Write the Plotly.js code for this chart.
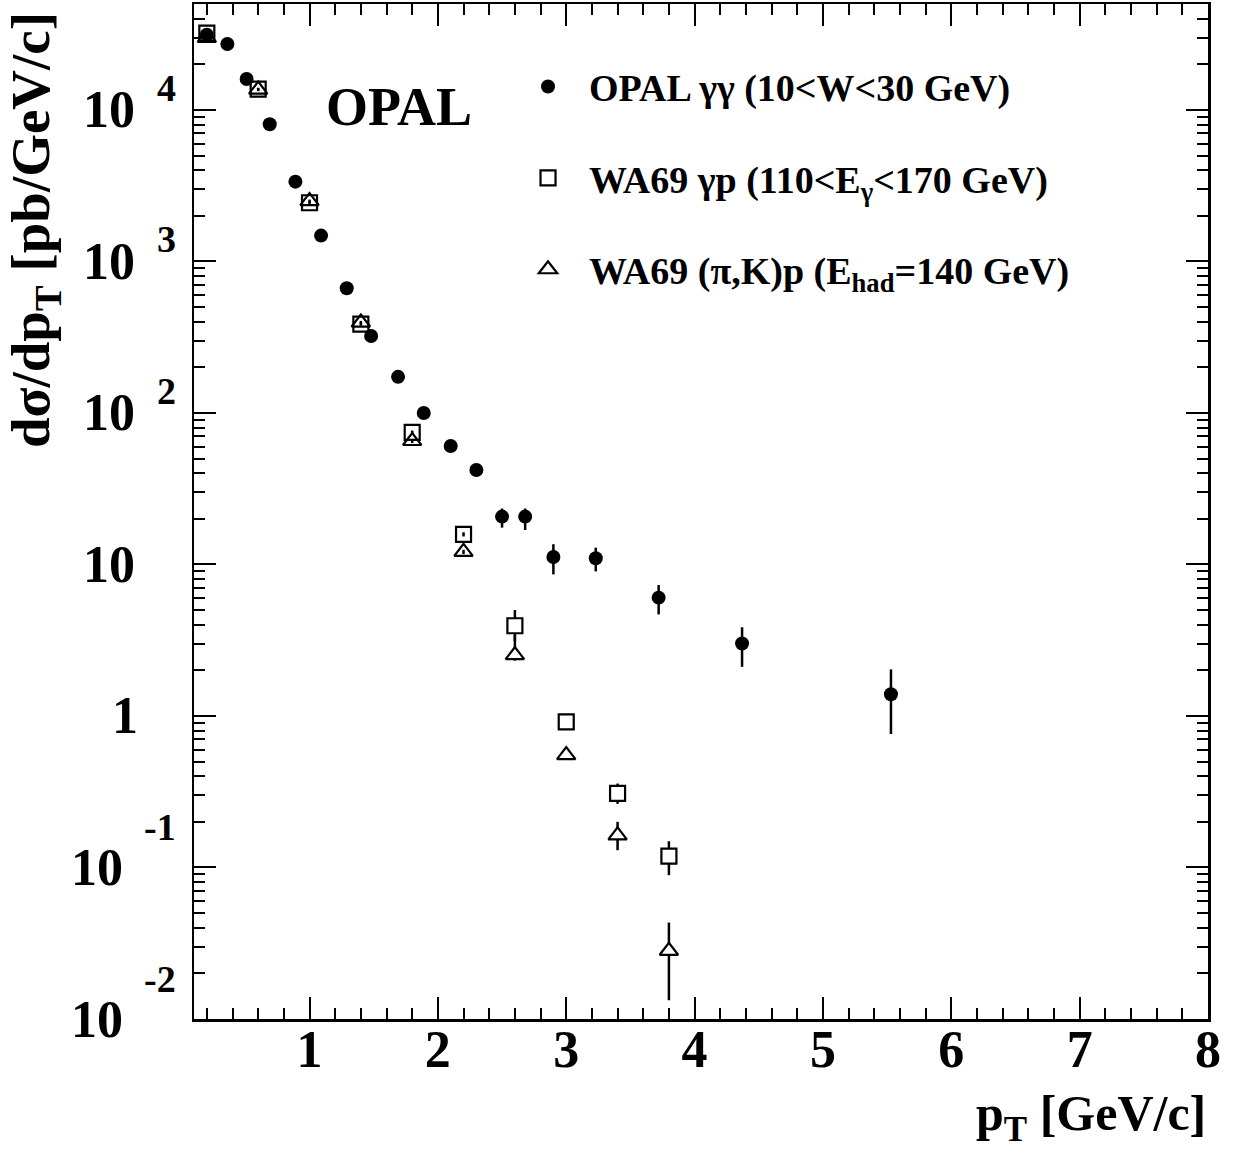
<!DOCTYPE html>
<html><head><meta charset="utf-8">
<script src="https://cdn.plot.ly/plotly-3.0.1.min.js"></script>
<style>html,body{margin:0;padding:0;background:#fff}#chart{width:1236px;height:1161px}</style>
</head><body><div id="chart"></div>
<script>
// ---- data ----
const opalX = [0.2, 0.36, 0.51, 0.69, 0.89, 1.09, 1.29, 1.48, 1.69, 1.89, 2.10, 2.30, 2.50, 2.68, 2.90, 3.23, 3.72, 4.37, 5.53];
const opalY = [31300, 27200, 16000, 8050, 3360, 1480, 665, 322, 173, 100, 60.5, 42, 20.7, 20.7, 11.2, 11.0, 6.04, 3.01, 1.39];
const opalErrUp = [600, 500, 300, 150, 70, 30, 15, 8, 4, 3, 2, 1.5, 2.7, 2.7, 2.4, 1.9, 1.27, 0.84, 0.64];
const opalErrDn = [600, 500, 300, 150, 70, 30, 15, 8, 4, 3, 2, 1.5, 3.2, 3.8, 2.6, 2.0, 1.36, 0.90, 0.63];

const gpX = [0.2, 0.6, 1.0, 1.4, 1.8, 2.2, 2.6, 3.0, 3.4, 3.8];
const gpY = [32100, 13700, 2440, 386, 74.5, 15.8, 3.94, 0.914, 0.308, 0.119];
const gpErrUp = [500, 300, 60, 10, 2, 0.5, 1.06, 0.04, 0.05, 0.030];
const gpErrDn = [500, 300, 60, 10, 2, 0.5, 0.82, 0.04, 0.045, 0.030];

const hpX = [0.2, 0.6, 1.0, 1.4, 1.8, 2.2, 2.6, 3.0, 3.4, 3.8];
const hpY = [29900, 13600, 2500, 395, 65.3, 12.1, 2.52, 0.552, 0.163, 0.0282];
const hpErrUp = [500, 300, 60, 10, 2, 0.4, 0.9, 0.04, 0.037, 0.0151];
const hpErrDn = [500, 300, 60, 10, 2, 0.4, 0.2, 0.04, 0.033, 0.0149];

const seriesNames = [
  'OPAL γγ (10&lt;W&lt;30 GeV)',
  'WA69 γp (110&lt;E<sub>γ</sub>&lt;170 GeV)',
  'WA69 (π,K)p (E<sub>had</sub>=140 GeV)'
];
const yDecades = [-2, -1, 0, 1, 2, 3, 4];
const xTitle = 'p<sub>T</sub> [GeV/c]';
const yTitle = 'dσ/dp<sub>T</sub> [pb/GeV/c]';
const plotLabel = 'OPAL';

// ---- style ----
const FONT = '"Liberation Serif", "Times New Roman", serif';
const f = (size) => ({family: FONT, size: size, weight: 'bold', color: 'black'});
const fillFor = (xs) => xs.map(x => x >= 2.5 ? 'white' : 'rgba(0,0,0,0)');
const errStyle = (up, dn) => ({type: 'data', symmetric: false, array: up, arrayminus: dn,
  width: 0, thickness: 2.5, color: 'black'});

const traces = [
  {x: opalX, y: opalY, type: 'scatter', mode: 'markers', name: seriesNames[0], legendgroup: 'a',
   marker: {symbol: 'circle', size: 14, color: 'black', line: {width: 0}},
   error_y: errStyle(opalErrUp, opalErrDn)},
  {x: gpX, y: gpY, type: 'scatter', mode: 'markers', name: seriesNames[1], legendgroup: 'b',
   marker: {symbol: 'square', size: 15, color: fillFor(gpX), line: {width: 2.2, color: 'black'}},
   error_y: errStyle(gpErrUp, gpErrDn)},
  {x: hpX, y: hpY, type: 'scatter', mode: 'markers', name: seriesNames[2], legendgroup: 'c',
   marker: {symbol: 'triangle-up', size: 16, color: fillFor(hpX), line: {width: 2.2, color: 'black'}},
   error_y: errStyle(hpErrUp, hpErrDn)}
];

const annotations = [];
yDecades.forEach(e => {
  const base = e === 0 ? '1' : '10';
  annotations.push({xref: 'paper', yref: 'y', x: 0, y: e, xanchor: 'right', yanchor: 'middle',
    xshift: e < 0 ? -69 : (e === 0 ? -54 : -57), text: base, showarrow: false, font: f(52)});
  if (e !== 0 && e !== 1) {
    annotations.push({xref: 'paper', yref: 'y', x: 0, y: e, xanchor: 'right', yanchor: 'middle',
      xshift: -16, yshift: e < 0 ? 40 : 22, text: String(e), showarrow: false, font: f(38)});
  }
});
annotations.push({xref: 'paper', yref: 'paper', x: 0.1286, y: 0.899, xanchor: 'left', yanchor: 'middle',
  text: plotLabel, showarrow: false, font: f(54)});
annotations.push({xref: 'paper', yref: 'paper', x: 1, y: 0, xanchor: 'right', yanchor: 'top',
  xshift: 0, yshift: -64, text: xTitle, showarrow: false, font: f(50)});
annotations.push({xref: 'paper', yref: 'paper', x: 0, y: 1, xanchor: 'center', yanchor: 'top',
  xshift: -160, yshift: -6, textangle: -90, text: yTitle, showarrow: false, font: f(55)});

const layout = {
  width: 1236, height: 1161,
  margin: {l: 194, r: 28, t: 4, b: 142},
  paper_bgcolor: 'white', plot_bgcolor: 'white',
  font: f(20),
  showlegend: true,
  legend: {x: 0.3087, y: 0.9495, xanchor: 'left', yanchor: 'top', font: f(38),
    bgcolor: 'rgba(0,0,0,0)', borderwidth: 0, itemwidth: 72, tracegroupgap: 39,
    traceorder: 'grouped'},
  xaxis: {type: 'linear', range: [0.1, 8], tickmode: 'linear', tick0: 0, dtick: 1,
    ticks: 'inside', ticklen: 22, tickwidth: 2, tickcolor: 'black',
    showline: true, linewidth: 2.5, linecolor: 'black', mirror: 'ticks',
    showgrid: false, zeroline: false, tickfont: f(52), ticklabelstandoff: -17,
    minor: {tickmode: 'linear', tick0: 0, dtick: 0.2, ticks: 'inside', ticklen: 11,
      tickwidth: 2, tickcolor: 'black', showgrid: false}},
  yaxis: {type: 'log', range: [-2, Math.log10(5e4)], tickmode: 'linear', tick0: 0, dtick: 1,
    ticks: 'inside', ticklen: 22, tickwidth: 2, tickcolor: 'black',
    showline: true, linewidth: 2.5, linecolor: 'black', mirror: 'ticks',
    showgrid: false, zeroline: false, showticklabels: false,
    minor: {dtick: 'D1', ticks: 'inside', ticklen: 11, tickwidth: 2, tickcolor: 'black', showgrid: false}},
  annotations: annotations
};

Plotly.newPlot('chart', traces, layout, {displayModeBar: false, staticPlot: true});
</script>
</body></html>
